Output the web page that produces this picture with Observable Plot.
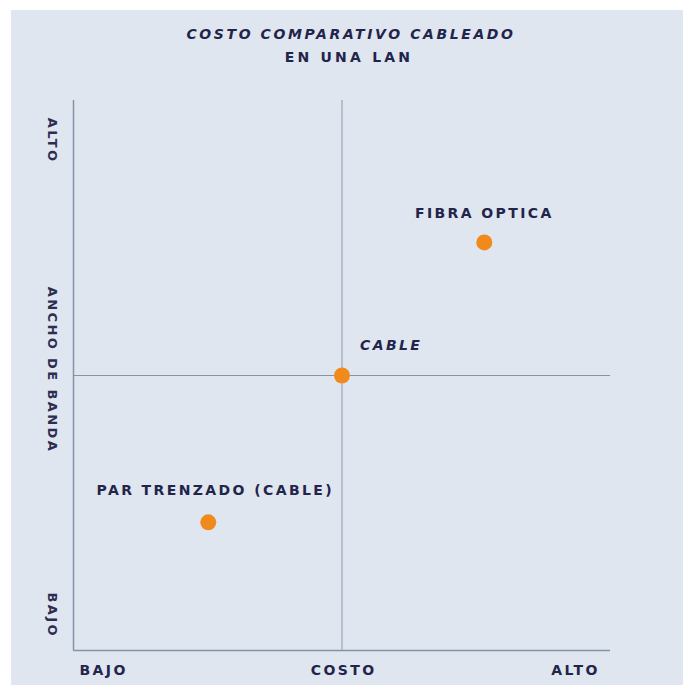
<!DOCTYPE html>
<html>
<head>
<meta charset="utf-8">
<script src="https://cdn.jsdelivr.net/npm/d3@7"></script>
<script src="https://cdn.jsdelivr.net/npm/@observablehq/plot@0.6"></script>
<style>
  html, body { margin: 0; padding: 0; background: #ffffff; }
  #panel { position: absolute; left: 11px; top: 10px; width: 672px; height: 675px; background: #dfe6f0; overflow: hidden; }
  #title { height: 70px; text-align: center; font-family: "DejaVu Sans", sans-serif; font-size: 14px; color: #22244a; }
  #title .l1 { padding-top: 16px; font-style: italic; font-weight: bold; letter-spacing: 2.6px; padding-left: 8px; line-height: 17px; }
  #title .l2 { padding-top: 6px; font-weight: bold; letter-spacing: 3.2px; padding-left: 4px; line-height: 17px; }
  svg { display: block; }
</style>
</head>
<body>
<div id="panel">
  <div id="title"><div class="l1">COSTO COMPARATIVO CABLEADO</div><div class="l2">EN UNA LAN</div></div>
  <div id="chart"></div>
</div>
<script>
// Data
const names = ["FIBRA OPTICA", "CABLE", "PAR TRENZADO (CABLE)"];
const cost = [0.765, 0.5, 0.251];        // x: COSTO (0 = bajo, 1 = alto)
const bandwidth = [0.742, 0.5, 0.233];   // y: ANCHO DE BANDA (0 = bajo, 1 = alto)
const xTickLabels = ["BAJO", "COSTO", "ALTO"];
const xTickValues = [0.056, 0.503, 0.935];
const yTickLabels = ["ALTO", "ANCHO DE BANDA", "BAJO"];
const yTickValues = [0.927, 0.51, 0.064];

const points = names.map((n, i) => ({name: n, x: cost[i], y: bandwidth[i]}));
const xt = xTickLabels.map((t, i) => ({t, v: xTickValues[i]}));
const yt = yTickLabels.map((t, i) => ({t, v: yTickValues[i]}));

const font = "DejaVu Sans, sans-serif";
const ink = "#22244a";
const lineColor = "#8592a8";

const chart = Plot.plot({
  width: 672,
  height: 605,
  marginLeft: 62,
  marginRight: 73,
  marginTop: 20,
  marginBottom: 35,
  x: {domain: [0, 1], axis: null},
  y: {domain: [0, 1], axis: null},
  style: {background: "transparent", fontFamily: font},
  marks: [
    Plot.ruleX([0], {y1: 0, y2: 1, stroke: lineColor, strokeWidth: 1.5}),
    Plot.ruleY([0], {x1: 0, x2: 1, stroke: lineColor, strokeWidth: 1.5}),
    Plot.ruleX([0.5], {y1: 0, y2: 1, stroke: "#9aa6ba", strokeWidth: 1.2}),
    Plot.ruleY([0.5], {x1: 0, x2: 1, stroke: lineColor, strokeWidth: 1.2}),
    Plot.dot(points, {x: "x", y: "y", r: 8, fill: "#f08a1c", stroke: "none"}),
    Plot.text(points.filter(d => d.name === "FIBRA OPTICA"), {x: "x", y: "y", text: "name", dx: 0, dy: -29, fill: ink, fontSize: 14, fontWeight: "bold"}),
    Plot.text(points.filter(d => d.name === "CABLE"), {x: "x", y: "y", text: "name", dx: 18, dy: -30, textAnchor: "start", fill: ink, fontSize: 14, fontWeight: "bold", fontStyle: "italic"}),
    Plot.text(points.filter(d => d.name === "PAR TRENZADO (CABLE)"), {x: "x", y: "y", text: "name", dx: 7, dy: -32, fill: ink, fontSize: 14, fontWeight: "bold"}),
    Plot.text(xt, {x: "v", frameAnchor: "bottom", dy: 24, text: "t", fill: ink, fontSize: 14, fontWeight: "bold"}),
    Plot.text(yt, {y: "v", frameAnchor: "left", dx: -21, rotate: 90, textAnchor: "middle", text: "t", fill: "#2c2e50", fontSize: 13, fontWeight: "bold"})
  ]
});
chart.querySelectorAll("text").forEach(t => t.style.letterSpacing = "2.4px");
document.getElementById("chart").appendChild(chart);
</script>
</body>
</html>
